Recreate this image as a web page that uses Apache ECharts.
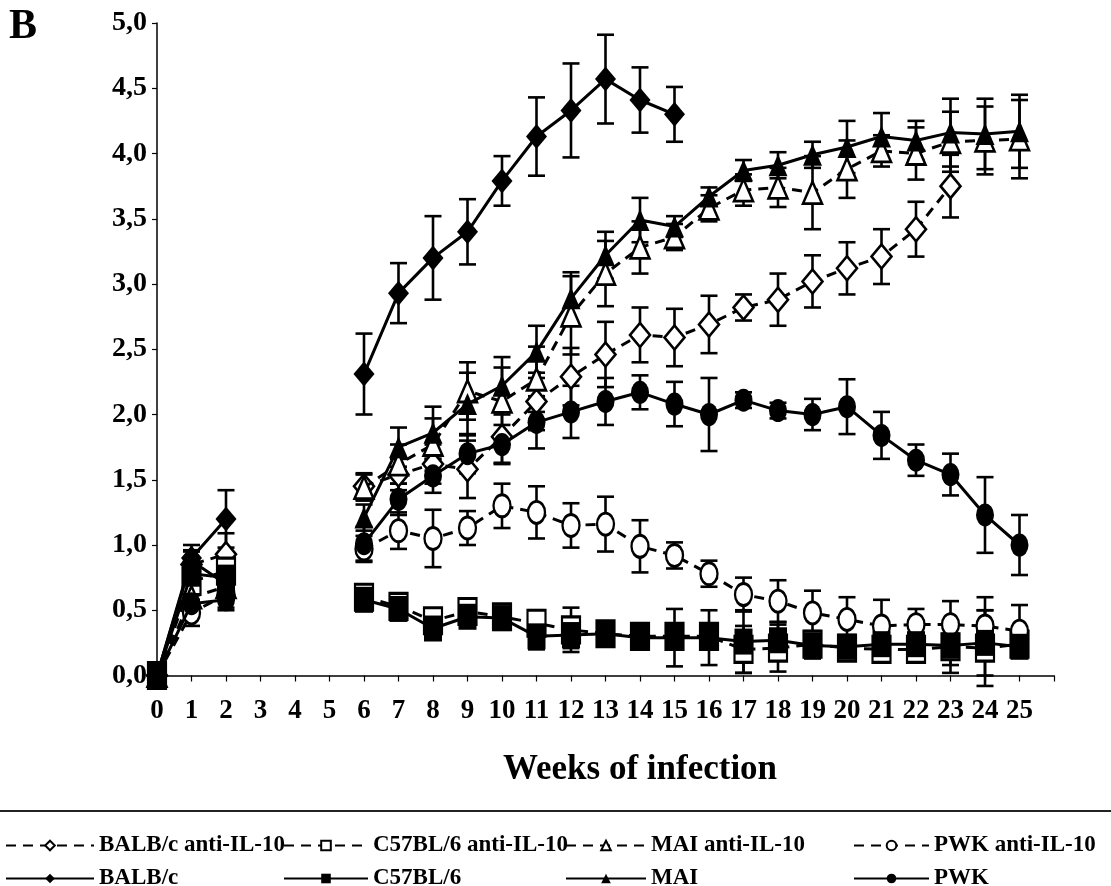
<!DOCTYPE html>
<html>
<head>
<meta charset="utf-8">
<script src="https://cdn.jsdelivr.net/npm/echarts@6/dist/echarts.min.js"></script>
<style>html,body{margin:0;padding:0;background:#fff}#c{width:1111px;height:886px}</style>
</head>
<body>
<div id="c"></div>
<script>
const weeks = [0,1,2,3,4,5,6,7,8,9,10,11,12,13,14,15,16,17,18,19,20,21,22,23,24,25];
const yTicks = [0,0.5,1,1.5,2,2.5,3,3.5,4,4.5,5];

const balbcAnti    = [0,0.85,0.93,null,null,null,1.45,1.54,1.62,1.58,1.83,2.10,2.29,2.46,2.61,2.59,2.69,2.82,2.88,3.02,3.12,3.21,3.42,3.75,null,null];
const balbcAntiErr = [0,0.10,0.16,null,null,null,0.10,0.12,0.15,0.22,0.20,0.22,0.22,0.25,0.21,0.22,0.22,0.10,0.20,0.20,0.20,0.21,0.21,0.24,null,null];
const c57Anti      = [0,0.72,0.80,null,null,null,0.60,0.53,0.42,0.49,0.45,0.40,0.35,0.32,0.30,0.30,0.30,0.20,0.21,0.24,0.21,0.20,0.20,0.22,0.21,0.24];
const c57AntiErr   = [0,0.08,0.08,null,null,null,0.05,0.05,0.05,0.05,0.05,0.10,0.17,0.05,0.05,0.05,0.10,0.18,0.18,0.10,0.05,0.05,0.05,0.20,0.29,0.05];
const maiAnti      = [0,0.60,0.68,null,null,null,1.44,1.62,1.77,2.18,2.10,2.27,2.76,3.08,3.28,3.36,3.58,3.72,3.74,3.70,3.88,4.02,4.00,4.09,4.10,4.11];
const maiAntiErr   = [0,0.10,0.10,null,null,null,0.10,0.15,0.20,0.22,0.26,0.25,0.30,0.25,0.20,0.10,0.10,0.12,0.15,0.28,0.22,0.12,0.20,0.23,0.26,0.30];
const pwkAnti      = [0,0.48,0.62,null,null,null,0.97,1.11,1.05,1.13,1.30,1.25,1.15,1.16,0.99,0.92,0.78,0.62,0.57,0.48,0.43,0.38,0.39,0.39,0.38,0.34];
const pwkAntiErr   = [0,0.10,0.10,null,null,null,0.10,0.14,0.22,0.13,0.17,0.20,0.17,0.21,0.20,0.10,0.10,0.13,0.16,0.17,0.17,0.20,0.12,0.18,0.22,0.20];
const balbc        = [0,0.90,1.20,null,null,null,2.31,2.93,3.20,3.40,3.79,4.13,4.33,4.57,4.41,4.30,null,null,null,null,null,null,null,null,null,null];
const balbcErr     = [0,0.10,0.22,null,null,null,0.31,0.23,0.32,0.25,0.19,0.30,0.36,0.34,0.25,0.21,null,null,null,null,null,null,null,null,null,null];
const c57          = [0,0.78,0.75,null,null,null,0.58,0.51,0.36,0.45,0.44,0.30,0.31,0.32,0.29,0.29,0.29,0.26,0.27,0.23,0.22,0.24,0.24,0.23,0.25,0.22];
const c57Err       = [0,0.08,0.08,null,null,null,0.05,0.05,0.05,0.05,0.08,0.10,0.10,0.05,0.05,0.22,0.21,0.24,0.14,0.10,0.05,0.05,0.05,0.15,0.25,0.05];
const mai          = [0,0.88,0.70,null,null,null,1.21,1.75,1.86,2.08,2.22,2.48,2.89,3.22,3.49,3.44,3.67,3.87,3.91,3.99,4.05,4.13,4.10,4.16,4.15,4.17];
const maiErr       = [0,0.08,0.08,null,null,null,0.10,0.15,0.20,0.24,0.22,0.20,0.20,0.18,0.17,0.08,0.07,0.08,0.10,0.10,0.20,0.18,0.15,0.26,0.27,0.28];
const pwk          = [0,0.55,0.58,null,null,null,1.01,1.35,1.53,1.70,1.77,1.94,2.02,2.10,2.17,2.08,2.00,2.11,2.03,2.00,2.06,1.84,1.65,1.54,1.23,1.00];
const pwkErr       = [0,0.10,0.08,null,null,null,0.13,0.12,0.13,0.15,0.15,0.20,0.20,0.18,0.13,0.17,0.28,0.06,0.06,0.12,0.21,0.18,0.12,0.16,0.29,0.23];

const FONT = 'Liberation Serif';
const BLACK = '#000';

const defs = [
  {name:'BALB/c anti-IL-10', vals:balbcAnti, errs:balbcAntiErr, symbol:'diamond', size:[20,24], open:true},
  {name:'C57BL/6 anti-IL-10', vals:c57Anti, errs:c57AntiErr, symbol:'rect', size:[18,26], open:true},
  {name:'MAI anti-IL-10', vals:maiAnti, errs:maiAntiErr, symbol:'triangle', size:[19,22], open:true},
  {name:'PWK anti-IL-10', vals:pwkAnti, errs:pwkAntiErr, symbol:'circle', size:[17,22], open:true},
  {name:'BALB/c', vals:balbc, errs:balbcErr, symbol:'diamond', size:[21,25], open:false},
  {name:'C57BL/6', vals:c57, errs:c57Err, symbol:'rect', size:[18,26], open:false},
  {name:'MAI', vals:mai, errs:maiErr, symbol:'triangle', size:[19,22], open:false},
  {name:'PWK', vals:pwk, errs:pwkErr, symbol:'circle', size:[18,23], open:false}
];

function errRender(params, api) {
  const x = api.value(0), lo = api.value(1), hi = api.value(2);
  const pt = api.coord([x, hi]);
  const pb = api.coord([x, lo]);
  const hw = 8.5;
  const st = {stroke: BLACK, lineWidth: 2.6, fill: null};
  return {
    type: 'group',
    children: [
      {type:'line', shape:{x1:pt[0], y1:pt[1], x2:pb[0], y2:pb[1]}, style:st},
      {type:'line', shape:{x1:pt[0]-hw, y1:pt[1], x2:pt[0]+hw, y2:pt[1]}, style:st},
      {type:'line', shape:{x1:pb[0]-hw, y1:pb[1], x2:pb[0]+hw, y2:pb[1]}, style:st}
    ]
  };
}

const series = [];
defs.forEach((d) => {
  series.push({
    name: d.name + ' err',
    type: 'custom',
    renderItem: errRender,
    encode: {x: 0, y: [1, 2]},
    data: weeks.map((w, i) => (d.vals[i] != null && d.errs[i]) ? [w, d.vals[i] - d.errs[i], d.vals[i] + d.errs[i]] : null).filter(Boolean),
    z: 2,
    silent: true
  });
});
defs.forEach((d, k) => {
  series.push({
    name: d.name,
    type: 'line',
    data: weeks.map((w, i) => [w, d.vals[i] == null ? '-' : d.vals[i]]),
    connectNulls: false,
    symbol: d.symbol,
    symbolSize: d.size,
    showAllSymbol: true,
    lineStyle: {color: BLACK, width: 3, type: d.open ? [10, 7] : 'solid'},
    itemStyle: d.open ? {color: '#fff', borderColor: BLACK, borderWidth: 2.6} : {color: BLACK, borderColor: BLACK, borderWidth: 0},
    z: 3 + k,
    silent: true
  });
});

const legendLefts = [0, 278, 560, 848];
const legendWidths = [88, 84, 80, 75];
const legends = defs.map((d, k) => {
  const col = k % 4, row = Math.floor(k / 4);
  return {
    data: [d.name],
    left: legendLefts[col],
    top: row === 0 ? 829 : 862,
    itemWidth: legendWidths[col],
    itemHeight: 12,
    selectedMode: false,
    textStyle: {fontFamily: FONT, fontWeight: 'bold', fontSize: 23, color: BLACK}
  };
});

const chart = echarts.init(document.getElementById('c'), null, {renderer: 'canvas'});
chart.setOption({
  animation: false,
  backgroundColor: '#fff',
  grid: {left: 157, right: 57, top: 23, bottom: 210.5, containLabel: false},
  xAxis: {
    type: 'value', min: 0, max: 26, interval: 1,
    axisLine: {lineStyle: {color: BLACK, width: 1.5}},
    axisTick: {show: true, inside: false, length: 6, lineStyle: {color: BLACK, width: 1.2}},
    axisLabel: {
      margin: 22, fontFamily: FONT, fontWeight: 'bold', fontSize: 27, color: BLACK,
      formatter: v => (v <= 25 ? String(v) : '')
    },
    splitLine: {show: false}
  },
  yAxis: {
    type: 'value', min: yTicks[0], max: yTicks[yTicks.length - 1], interval: 0.5,
    axisLine: {show: true, lineStyle: {color: BLACK, width: 1.5}},
    axisTick: {show: true, inside: false, length: 5, lineStyle: {color: BLACK, width: 1.2}},
    axisLabel: {
      margin: 10, fontFamily: FONT, fontWeight: 'bold', fontSize: 28, color: BLACK,
      formatter: v => v.toFixed(1).replace('.', ',')
    },
    splitLine: {show: false}
  },
  legend: legends,
  graphic: [
    {type: 'text', left: 9, top: 6, style: {text: 'B', font: 'bold 42px "Liberation Serif"', fill: BLACK}},
    {type: 'text', x: 640, y: 770, style: {text: 'Weeks of infection', font: 'bold 35px "Liberation Serif"', fill: BLACK, textAlign: 'center', textVerticalAlign: 'middle'}},
    {type: 'line', shape: {x1: 0, y1: 811, x2: 1111, y2: 811}, style: {stroke: '#222', lineWidth: 2}}
  ],
  series: series
});
</script>
</body>
</html>
